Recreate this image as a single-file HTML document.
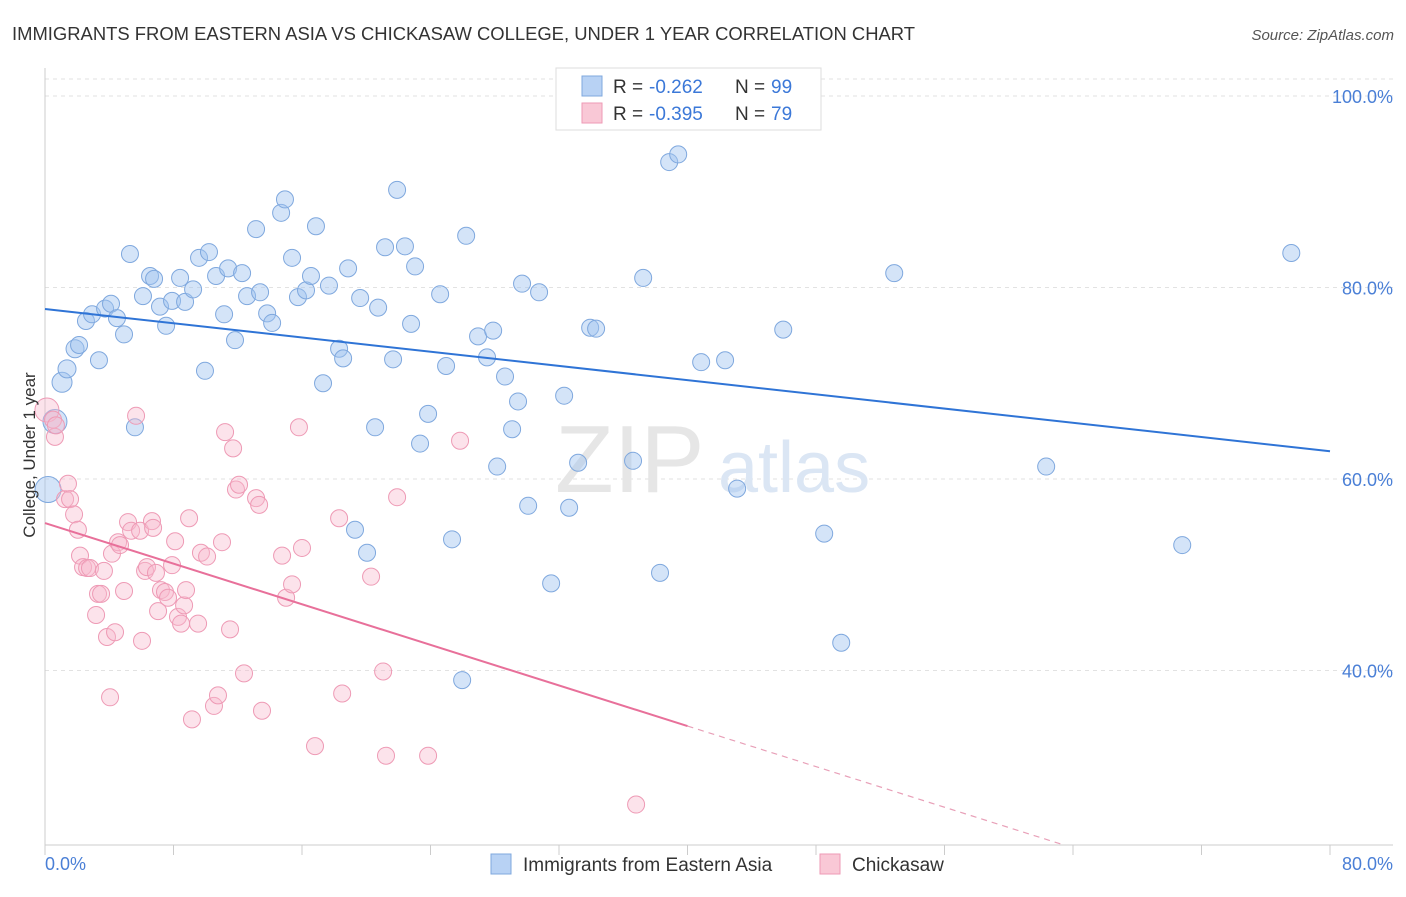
<!DOCTYPE html>
<html><head><meta charset="utf-8"><style>
body{margin:0;background:#fff;font-family:"Liberation Sans",sans-serif}
svg text{font-family:"Liberation Sans",sans-serif}
</style></head><body>
<svg id="chart" width="1406" height="892" xmlns="http://www.w3.org/2000/svg">
<text x="12" y="40" font-size="18" fill="#333" textLength="903" lengthAdjust="spacingAndGlyphs">IMMIGRANTS FROM EASTERN ASIA VS CHICKASAW COLLEGE, UNDER 1 YEAR CORRELATION CHART</text>
<text x="1394" y="40" font-size="15" fill="#555" font-style="italic" text-anchor="end">Source: ZipAtlas.com</text>
<g id="grid"></g>
<text x="555" y="492" font-size="96" fill="#e6e6e6" font-family="Liberation Serif">ZIP</text>
<text x="718" y="492" font-size="72" fill="#dbe6f4">atlas</text>
<g id="marks"></g>
<text x="35" y="455" font-size="17" fill="#333" text-anchor="middle" transform="rotate(-90 35 455)">College, Under 1 year</text>
<g>
<rect x="556" y="68" width="265" height="62" fill="#fff" stroke="#ddd"/>
<rect x="582" y="76" width="20" height="20" fill="#b8d2f4" stroke="#7fa8de"/>
<rect x="582" y="103" width="20" height="20" fill="#f9c8d6" stroke="#ee9ab5"/>
<text x="613" y="93" font-size="19" fill="#333">R =</text>
<text x="649" y="93" font-size="19" fill="#3b78d8">-0.262</text>
<text x="735" y="93" font-size="19" fill="#333">N =</text>
<text x="771" y="93" font-size="19" fill="#3b78d8">99</text>
<text x="613" y="120" font-size="19" fill="#333">R =</text>
<text x="649" y="120" font-size="19" fill="#3b78d8">-0.395</text>
<text x="735" y="120" font-size="19" fill="#333">N =</text>
<text x="771" y="120" font-size="19" fill="#3b78d8">79</text>
</g>
<g>
<rect x="491" y="854" width="20" height="20" fill="#b8d2f4" stroke="#7fa8de"/>
<text x="523" y="871" font-size="19" fill="#333">Immigrants from Eastern Asia</text>
<rect x="820" y="854" width="20" height="20" fill="#f9c8d6" stroke="#ee9ab5"/>
<text x="852" y="871" font-size="19" fill="#333">Chickasaw</text>
</g>
</svg>
<script>
const yTicks=[100,80,60,40];
const yTickLabels=["100.0%","80.0%","60.0%","40.0%"];
const xTickLabels=["0.0%","80.0%"];
const blueX=[0.19,0.62,1.06,1.37,1.87,2.12,2.55,2.93,3.36,3.74,4.11,4.48,4.92,5.29,5.6,6.1,6.54,6.79,7.16,7.54,7.91,8.41,8.72,9.22,9.59,9.96,10.21,10.65,11.15,11.4,11.83,12.27,12.58,13.14,13.39,13.83,14.14,14.7,14.94,15.38,15.75,16.25,16.56,16.87,17.31,17.68,18.31,18.56,18.87,19.3,19.62,20.05,20.55,20.74,21.17,21.67,21.92,22.41,22.79,23.04,23.35,23.85,24.6,24.97,25.34,25.97,26.22,26.96,27.52,27.9,28.15,28.64,29.08,29.45,30.08,29.7,30.76,31.51,32.32,32.63,33.19,33.94,34.31,36.61,37.24,38.29,38.86,39.42,40.85,42.34,43.09,45.96,48.51,49.57,52.87,62.33,70.8,77.59];
const blueY=[58.9,66.0,70.1,71.5,73.6,74.0,76.5,77.2,72.4,77.8,78.3,76.8,75.1,83.5,65.4,79.1,81.2,80.9,78.0,76.0,78.6,81.0,78.5,79.8,83.1,71.3,83.7,81.2,77.2,82.0,74.5,81.5,79.1,86.1,79.5,77.3,76.3,87.8,89.2,83.1,79.0,79.7,81.2,86.4,70.0,80.2,73.6,72.6,82.0,54.7,78.9,52.3,65.4,77.9,84.2,72.5,90.2,84.3,76.2,82.2,63.7,66.8,79.3,71.8,53.7,39.0,85.4,74.9,72.7,75.5,61.3,70.7,65.2,68.1,57.2,80.4,79.5,49.1,68.7,57.0,61.7,75.8,75.7,61.9,81.0,50.2,93.1,93.9,72.2,72.4,59.0,75.6,54.3,42.9,81.5,61.3,53.1,83.6];
const blueBig=[13,12,10,9,9,0,0,0,0,0,0,0,0,0,0];
const pinkX=[0.12,0.5,0.62,0.68,1.25,1.43,1.56,1.81,2.05,2.18,2.37,2.62,2.8,3.18,3.3,3.49,3.67,3.86,4.05,4.17,4.36,4.55,4.67,4.92,5.17,5.36,5.67,5.92,6.04,6.23,6.35,6.66,6.73,6.91,7.04,7.22,7.47,7.66,7.91,8.1,8.28,8.47,8.66,8.78,8.97,9.15,9.53,9.71,10.09,10.52,10.77,11.02,11.21,11.52,11.71,11.89,12.08,12.39,13.14,13.33,13.51,14.76,15.01,15.38,15.81,16.0,16.81,18.31,18.5,20.3,21.05,21.23,21.92,23.85,25.84,36.8];
const pinkY=[67.2,66.2,64.4,65.6,57.9,59.5,57.9,56.3,54.7,52.0,50.8,50.7,50.7,45.8,48.0,48.0,50.4,43.5,37.2,52.2,44.0,53.4,53.1,48.3,55.5,54.6,66.6,54.6,43.1,50.4,50.8,55.6,54.9,50.2,46.2,48.4,48.2,47.6,51.0,53.5,45.6,44.9,46.8,48.4,55.9,34.9,44.9,52.3,51.9,36.3,37.4,53.4,64.9,44.3,63.2,58.9,59.4,39.7,58.0,57.3,35.8,52.0,47.6,49.0,65.4,52.8,32.1,55.9,37.6,49.8,39.9,31.1,58.1,31.1,64.0,26.0];
const blueTrend=[77.75,62.9];
const pinkTrend=[55.4,34.2];
const pinkSolidEnd=40;

const X0=45,X1=1330,Y100=96,PX=9.575,BOTTOM=845;
const sx=v=>X0+(v/80)*(X1-X0);
const sy=v=>Y100+(100-v)*PX;
const NS="http://www.w3.org/2000/svg";
function mk(tag,attrs,parent){const e=document.createElementNS(NS,tag);for(const k in attrs)e.setAttribute(k,attrs[k]);parent.appendChild(e);return e;}
const grid=document.getElementById('grid'),marks=document.getElementById('marks');
let e=mk('line',{x1:45,x2:1393,y1:79,y2:79,stroke:'#e2e2e2','stroke-dasharray':'4 4'},grid);


yTicks.forEach((t,i)=>{
 const g=mk('line',{x1:45,x2:1393,y1:sy(t),y2:sy(t),stroke:'#e2e2e2','stroke-dasharray':'4 4'},grid);
 
 
 const l=mk('text',{x:1393,y:sy(t)+7,'font-size':18,fill:'#4a7fd6','text-anchor':'end'},grid);
 l.textContent=yTickLabels[i];
 
 
});
e=mk('line',{x1:45,x2:45,y1:68,y2:BOTTOM,stroke:'#ccc'},grid);


e=mk('line',{x1:45,x2:1393,y1:BOTTOM,y2:BOTTOM,stroke:'#ccc'},grid);


for(let i=0;i<=10;i++){
 const t=mk('line',{x1:sx(i*8),x2:sx(i*8),y1:BOTTOM,y2:BOTTOM+10,stroke:'#ccc'},grid);
 
 
}
e=mk('text',{x:45,y:870,'font-size':18,fill:'#4a7fd6'},grid);e.textContent=xTickLabels[0];


e=mk('text',{x:1393,y:870,'font-size':18,fill:'#4a7fd6','text-anchor':'end'},grid);e.textContent=xTickLabels[1];



blueX.forEach((x,i)=>{
 const c=mk('circle',{cx:sx(x),cy:sy(blueY[i]),r:blueBig[i]||8.5,fill:'rgba(160,196,240,0.45)',stroke:'#7fa8de','stroke-width':1},marks);
 
 
});
pinkX.forEach((x,i)=>{
 const c=mk('circle',{cx:sx(x),cy:sy(pinkY[i]),r:i==0?12:8.5,fill:'rgba(247,185,205,0.4)',stroke:'#ee9ab5','stroke-width':1},marks);
 
 
});
e=mk('line',{x1:sx(0),y1:sy(blueTrend[0]),x2:sx(80),y2:sy(blueTrend[1]),stroke:'#2f74d6','stroke-width':2},marks);


const pAt=x=>pinkTrend[0]+(pinkTrend[1]-pinkTrend[0])*x/40;
e=mk('line',{x1:sx(0),y1:sy(pAt(0)),x2:sx(pinkSolidEnd),y2:sy(pAt(pinkSolidEnd)),stroke:'#e8709a','stroke-width':2},marks);


const yb=100-(BOTTOM-Y100)/PX;
const xEnd=Math.min(80,(yb-pinkTrend[0])*40/(pinkTrend[1]-pinkTrend[0]));
e=mk('line',{x1:sx(pinkSolidEnd),y1:sy(pAt(pinkSolidEnd)),x2:sx(xEnd),y2:sy(pAt(xEnd)),stroke:'#e8a0b8','stroke-width':1.2,'stroke-dasharray':'6 5'},marks);


</script>
</body></html>
